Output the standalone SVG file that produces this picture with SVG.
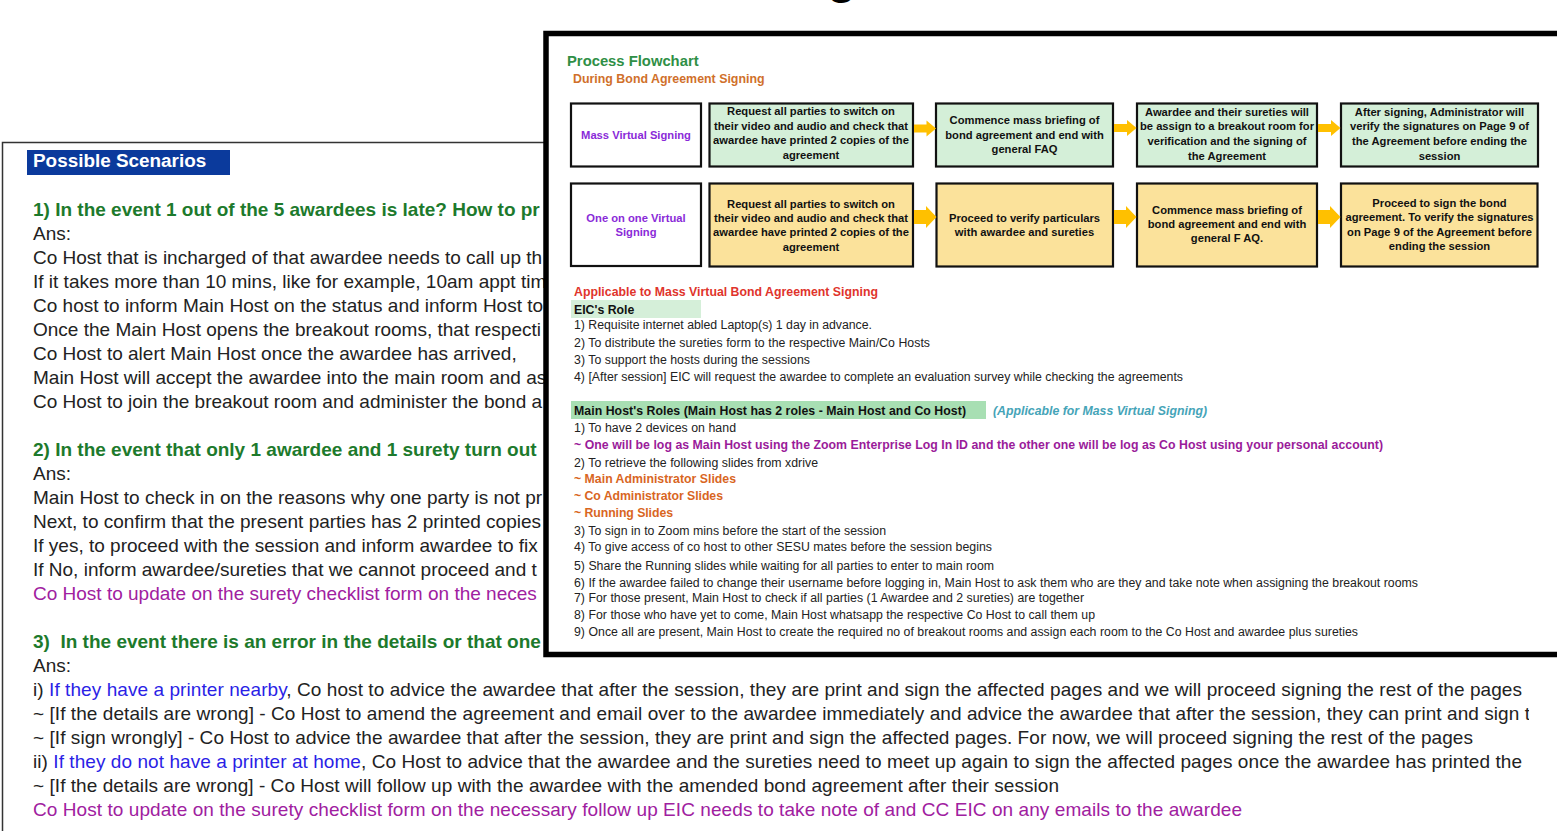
<svg xmlns="http://www.w3.org/2000/svg" width="1557" height="831" viewBox="0 0 1557 831">
<style>
.l{font-family:"Liberation Sans",Arial,sans-serif;font-size:19px;fill:#222}
.lh{font-family:"Liberation Sans",Arial,sans-serif;font-size:19px;font-weight:bold;fill:#1d7a2c}
.lb{fill:#2b1fe6}
.lp{font-family:"Liberation Sans",Arial,sans-serif;font-size:19px;fill:#a0209f}
.f{font-family:"Liberation Sans",Arial,sans-serif;font-size:12.3px;fill:#222}
.fb{font-family:"Liberation Sans",Arial,sans-serif;font-size:12.3px;font-weight:bold}
.bx{stroke:#111;stroke-width:2.2}
.bt{font-family:"Liberation Sans",Arial,sans-serif;font-size:11.2px;font-weight:bold;fill:#111;text-anchor:middle}
.g{fill:#d4efd8}
.y{fill:#fbe29b}
.w{fill:#fff}
.arr{fill:#ffc000}
</style>
<defs>
<clipPath id="clipL"><rect x="0" y="140" width="1529" height="700"/></clipPath>
</defs>
<rect width="1557" height="831" fill="#fff"/>
<text x="827" y="-7" font-family="Liberation Sans, Arial, sans-serif" font-size="48" font-weight="bold" fill="#000">g</text>

<g id="scenarios">
<path d="M2.5 831 V142.5 H700" fill="#fff" stroke="#333" stroke-width="1.5"/>
<rect x="27" y="150" width="203" height="25" fill="#0b3a9c"/>
<text x="33" y="166.5" font-family="Liberation Sans, Arial, sans-serif" font-size="18.9" font-weight="bold" fill="#fff">Possible Scenarios</text>
<g clip-path="url(#clipL)">
<text class="lh" x="33" y="216">1) In the event 1 out of the 5 awardees is late? How to pr</text>
<text class="l" x="33" y="240">Ans:</text>
<text class="l" x="33" y="264">Co Host that is incharged of that awardee needs to call up th</text>
<text class="l" x="33" y="288">If it takes more than 10 mins, like for example, 10am appt tim</text>
<text class="l" x="33" y="312">Co host to inform Main Host on the status and inform Host to</text>
<text class="l" x="33" y="336">Once the Main Host opens the breakout rooms, that respecti</text>
<text class="l" x="33" y="360">Co Host to alert Main Host once the awardee has arrived,</text>
<text class="l" x="33" y="384">Main Host will accept the awardee into the main room and as</text>
<text class="l" x="33" y="408">Co Host to join the breakout room and administer the bond a</text>
<text class="lh" x="33" y="456">2) In the event that only 1 awardee and 1 surety turn out</text>
<text class="l" x="33" y="480">Ans:</text>
<text class="l" x="33" y="504">Main Host to check in on the reasons why one party is not pr</text>
<text class="l" x="33" y="528">Next, to confirm that the present parties has 2 printed copies</text>
<text class="l" x="33" y="552">If yes, to proceed with the session and inform awardee to fix</text>
<text class="l" x="33" y="576">If No, inform awardee/sureties that we cannot proceed and t</text>
<text class="lp" x="33" y="600">Co Host to update on the surety checklist form on the neces</text>
<text class="lh" x="33" y="648" xml:space="preserve">3)  In the event there is an error in the details or that one</text>
<text class="l" x="33" y="672">Ans:</text>
<text class="l" x="33" y="696" textLength="1489" lengthAdjust="spacing">i) <tspan class="lb">If they have a printer nearby</tspan>, Co host to advice the awardee that after the session, they are print and sign the affected pages and we will proceed signing the rest of the pages</text>
<text class="l" x="33" y="720" textLength="1497" lengthAdjust="spacing">~ [If the details are wrong] - Co Host to amend the agreement and email over to the awardee immediately and advice the awardee that after the session, they can print and sign t</text>
<text class="l" x="33" y="744" textLength="1440" lengthAdjust="spacing">~ [If sign wrongly] - Co Host to advice the awardee that after the session, they are print and sign the affected pages. For now, we will proceed signing the rest of the pages</text>
<text class="l" x="33" y="768" textLength="1489" lengthAdjust="spacing">ii) <tspan class="lb">If they do not have a printer at home</tspan>, Co Host to advice that the awardee and the sureties need to meet up again to sign the affected pages once the awardee has printed the</text>
<text class="l" x="33" y="792" textLength="1026" lengthAdjust="spacing">~ [If the details are wrong] - Co Host will follow up with the awardee with the amended bond agreement after their session</text>
<text class="lp" x="33" y="816" textLength="1209" lengthAdjust="spacing">Co Host to update on the surety checklist form on the necessary follow up EIC needs to take note of and CC EIC on any emails to the awardee</text>
</g>
</g>

<g id="flowchart-panel">
<rect x="546" y="33.5" width="1100" height="621" fill="#fff" stroke="#000" stroke-width="5.5"/>
<text x="567" y="66" font-family="Liberation Sans, Arial, sans-serif" font-size="14.8" font-weight="bold" fill="#2f8f46">Process Flowchart</text>
<text x="573" y="83" font-family="Liberation Sans, Arial, sans-serif" font-size="12.4" font-weight="bold" fill="#d0702a">During Bond Agreement Signing</text>
</g>

<g id="node-mass">
<rect class="bx w" x="571" y="103.5" width="130" height="63"/>
<text class="bt" x="636" y="138.5" style="fill:#8a2ad8">Mass Virtual Signing</text>
</g>
<g id="node-mass-2">
<rect class="bx g" x="709.5" y="103.5" width="203.5" height="63"/>
<text class="bt" x="811" y="115">Request all parties to switch on</text>
<text class="bt" x="811" y="129.7">their video and audio and check that</text>
<text class="bt" x="811" y="144.3">awardee have printed 2 copies of the</text>
<text class="bt" x="811" y="159">agreement</text>
</g>
<g id="node-mass-3">
<rect class="bx g" x="936" y="103.5" width="177" height="63"/>
<text class="bt" x="1024.5" y="124">Commence mass briefing of</text>
<text class="bt" x="1024.5" y="138.5">bond agreement and end with</text>
<text class="bt" x="1024.5" y="153">general FAQ</text>
</g>
<g id="node-mass-4">
<rect class="bx g" x="1137" y="103.5" width="180" height="63"/>
<text class="bt" x="1227" y="115.7">Awardee and their sureties will</text>
<text class="bt" x="1227" y="130.3">be assign to a breakout room for</text>
<text class="bt" x="1227" y="145">verification and the signing of</text>
<text class="bt" x="1227" y="159.7">the Agreement</text>
</g>
<g id="node-mass-5">
<rect class="bx g" x="1341" y="103.5" width="197" height="63"/>
<text class="bt" x="1439.5" y="115.7">After signing, Administrator will</text>
<text class="bt" x="1439.5" y="130.3">verify the signatures on Page 9 of</text>
<text class="bt" x="1439.5" y="145">the Agreement before ending the</text>
<text class="bt" x="1439.5" y="159.7">session</text>
</g>

<g id="node-one">
<rect class="bx w" x="571" y="183.5" width="130" height="82.5"/>
<text class="bt" x="636" y="221.7" style="fill:#8a2ad8">One on one Virtual</text>
<text class="bt" x="636" y="235.7" style="fill:#8a2ad8">Signing</text>
</g>
<g id="node-one-2">
<rect class="bx y" x="709.5" y="183.5" width="203.5" height="83"/>
<text class="bt" x="811" y="207.5">Request all parties to switch on</text>
<text class="bt" x="811" y="222">their video and audio and check that</text>
<text class="bt" x="811" y="236.3">awardee have printed 2 copies of the</text>
<text class="bt" x="811" y="250.7">agreement</text>
</g>
<g id="node-one-3">
<rect class="bx y" x="936.5" y="183.5" width="176.5" height="83"/>
<text class="bt" x="1024.5" y="221.7">Proceed to verify particulars</text>
<text class="bt" x="1024.5" y="235.5">with awardee and sureties</text>
</g>
<g id="node-one-4">
<rect class="bx y" x="1137" y="183.5" width="180" height="83"/>
<text class="bt" x="1227" y="214">Commence mass briefing of</text>
<text class="bt" x="1227" y="228">bond agreement and end with</text>
<text class="bt" x="1227" y="242">general F AQ.</text>
</g>
<g id="node-one-5">
<rect class="bx y" x="1341" y="183.5" width="196.5" height="83"/>
<text class="bt" x="1439.5" y="206.5">Proceed to sign the bond</text>
<text class="bt" x="1439.5" y="221">agreement. To verify the signatures</text>
<text class="bt" x="1439.5" y="235.5">on Page 9 of the Agreement before</text>
<text class="bt" x="1439.5" y="250">ending the session</text>
</g>

<g id="connectors">
<path class="arr" d="M914 124.5 H926.5 V120.5 L936 128.5 L926.5 136.5 V132.5 H914 Z"/>
<path class="arr" d="M1114 124 H1127 V120 L1136.5 128 L1127 136 V132 H1114 Z"/>
<path class="arr" d="M1318 124 H1331 V120 L1340.5 128 L1331 136 V132 H1318 Z"/>
<path class="arr" d="M914 210 H926 V206 L936.5 217 L926 228 V224 H914 Z"/>
<path class="arr" d="M1114 210 H1126 V206 L1136.5 217 L1126 228 V224 H1114 Z"/>
<path class="arr" d="M1318 210 H1330 V206 L1340.5 217 L1330 228 V224 H1318 Z"/>
</g>

<g id="roles">
<text class="fb" x="574" y="295.5" fill="#e0342c" textLength="304" lengthAdjust="spacing">Applicable to Mass Virtual Bond Agreement Signing</text>
<rect x="571" y="300" width="130" height="18" fill="#d5efd9"/>
<text class="fb" x="574" y="313.5" fill="#111">EIC's Role</text>
<text class="f" x="574" y="329" textLength="298" lengthAdjust="spacing">1) Requisite internet abled Laptop(s) 1 day in advance.</text>
<text class="f" x="574" y="347" textLength="356" lengthAdjust="spacing">2) To distribute the sureties form to the respective Main/Co Hosts</text>
<text class="f" x="574" y="363.5" textLength="236" lengthAdjust="spacing">3) To support the hosts during the sessions</text>
<text class="f" x="574" y="381" textLength="609" lengthAdjust="spacing">4) [After session] EIC will request the awardee to complete an evaluation survey while checking the agreements</text>
<rect x="571" y="401" width="415" height="18" fill="#a8dfb3"/>
<text class="fb" x="574" y="415" fill="#111" textLength="392" lengthAdjust="spacing">Main Host's Roles (Main Host has 2 roles - Main Host and Co Host)</text>
<text class="fb" x="993" y="415" fill="#45a4b8" font-style="italic" textLength="214" lengthAdjust="spacing">(Applicable for Mass Virtual Signing)</text>
<text class="f" x="574" y="432" textLength="162" lengthAdjust="spacing">1) To have 2 devices on hand</text>
<text class="fb" x="574" y="449" fill="#9a1b9a" textLength="809" lengthAdjust="spacing">~ One will be log as Main Host using the Zoom Enterprise Log In ID and the other one will be log as Co Host using your personal account)</text>
<text class="f" x="574" y="467" textLength="244" lengthAdjust="spacing">2) To retrieve the following slides from xdrive</text>
<text class="fb" x="574" y="483" fill="#d9661f" textLength="162" lengthAdjust="spacing">~ Main Administrator Slides</text>
<text class="fb" x="574" y="500" fill="#d9661f" textLength="149" lengthAdjust="spacing">~ Co Administrator Slides</text>
<text class="fb" x="574" y="516.5" fill="#d9661f" textLength="99" lengthAdjust="spacing">~ Running Slides</text>
<text class="f" x="574" y="535" textLength="312" lengthAdjust="spacing">3) To sign in to Zoom mins before the start of the session</text>
<text class="f" x="574" y="551" textLength="418" lengthAdjust="spacing">4) To give access of co host to other SESU mates before the session begins</text>
<text class="f" x="574" y="569.5" textLength="420" lengthAdjust="spacing">5) Share the Running slides while waiting for all parties to enter to main room</text>
<text class="f" x="574" y="587" textLength="844" lengthAdjust="spacing">6) If the awardee failed to change their username before logging in, Main Host to ask them who are they and take note when assigning the breakout rooms</text>
<text class="f" x="574" y="601.5" textLength="510" lengthAdjust="spacing">7) For those present, Main Host to check if all parties (1 Awardee and 2 sureties) are together</text>
<text class="f" x="574" y="619" textLength="521" lengthAdjust="spacing">8) For those who have yet to come, Main Host whatsapp the respective Co Host to call them up</text>
<text class="f" x="574" y="636" textLength="784" lengthAdjust="spacing">9) Once all are present, Main Host to create the required no of breakout rooms and assign each room to the Co Host and awardee plus sureties</text>
</g>
</svg>
